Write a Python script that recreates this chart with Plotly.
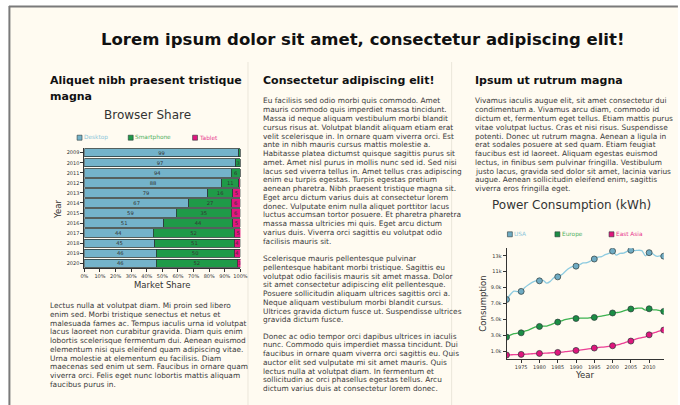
import plotly.graph_objects as go

# ---------------- data ----------------
share_years = ["2009", "2010", "2011", "2012", "2013", "2014", "2015", "2016", "2017", "2018", "2019", "2020"]
desktop = [99, 97, 94, 88, 79, 67, 59, 51, 44, 45, 46, 46]
smartphone = [1, 3, 6, 11, 16, 27, 35, 44, 52, 51, 50, 52]
tablet = [0, 0, 0, 1, 5, 6, 6, 5, 5, 4, 4, 3]
share_ticks = [0, 10, 20, 30, 40, 50, 60, 70, 80, 90, 100]
share_tick_labels = ["0%", "10%", "20%", "30%", "40%", "50%", "60%", "70%", "80%", "90%", "100%"]

power_years = list(range(1971, 2015))
usa = [7500, 8100, 8550, 8500, 8520, 9000, 9350, 9650, 9850, 9850,
       9900, 9550, 9800, 10250, 10350, 10600, 11000, 11400, 11650, 11700,
       11900, 12100, 12150, 12350, 12600, 12850, 12900, 13150, 13300, 13600,
       13100, 13300, 13350, 13550, 13700, 13650, 13700, 13650, 13000, 13400,
       13250, 12950, 13000, 12960]
europe = [2760, 3000, 3200, 3250, 3300, 3500, 3650, 3850, 4050, 4100,
          4150, 4150, 4300, 4500, 4650, 4800, 4950, 5050, 5150, 5100,
          5150, 5150, 5150, 5200, 5240, 5350, 5400, 5500, 5600, 5800,
          5850, 5900, 6050, 6200, 6300, 6350, 6400, 6400, 6150, 6330,
          6200, 6200, 6100, 6000]
east_asia = [500, 520, 550, 560, 580, 600, 630, 660, 690, 700,
             720, 740, 770, 800, 830, 870, 920, 970, 1030, 1080,
             1130, 1190, 1250, 1310, 1380, 1440, 1500, 1520, 1580, 1670,
             1750, 1850, 2000, 2150, 2260, 2450, 2600, 2700, 2800, 3050,
             3250, 3400, 3550, 3650]
marker_years = [1971, 1975, 1980, 1985, 1990, 1995, 2000, 2005, 2010, 2014]
power_xticks = [1975, 1980, 1985, 1990, 1995, 2000, 2005, 2010]
power_yticks = [1000, 3000, 5000, 7000, 9000, 11000, 13000]

page_title = "Lorem ipsum dolor sit amet, consectetur adipiscing elit!"
col1_heading = ["Aliquet nibh praesent tristique", "magna"]
col2_heading = "Consectetur adipiscing elit!"
col3_heading = "Ipsum ut rutrum magna"
col1_text = [
    "Lectus nulla at volutpat diam. Mi proin sed libero",
    "enim sed. Morbi tristique senectus et netus et",
    "malesuada fames ac. Tempus iaculis urna id volutpat",
    "lacus laoreet non curabitur gravida. Diam quis enim",
    "lobortis scelerisque fermentum dui. Aenean euismod",
    "elementum nisi quis eleifend quam adipiscing vitae.",
    "Urna molestie at elementum eu facilisis. Diam",
    "maecenas sed enim ut sem. Faucibus in ornare quam",
    "viverra orci. Felis eget nunc lobortis mattis aliquam",
    "faucibus purus in.",
]
col2_p1 = [
    "Eu facilisis sed odio morbi quis commodo. Amet",
    "mauris commodo quis imperdiet massa tincidunt.",
    "Massa id neque aliquam vestibulum morbi blandit",
    "cursus risus at. Volutpat blandit aliquam etiam erat",
    "velit scelerisque in. In ornare quam viverra orci. Est",
    "ante in nibh mauris cursus mattis molestie a.",
    "Habitasse platea dictumst quisque sagittis purus sit",
    "amet. Amet nisl purus in mollis nunc sed id. Sed nisi",
    "lacus sed viverra tellus in. Amet tellus cras adipiscing",
    "enim eu turpis egestas. Turpis egestas pretium",
    "aenean pharetra. Nibh praesent tristique magna sit.",
    "Eget arcu dictum varius duis at consectetur lorem",
    "donec. Vulputate enim nulla aliquet porttitor lacus",
    "luctus accumsan tortor posuere. Et pharetra pharetra",
    "massa massa ultricies mi quis. Eget arcu dictum",
    "varius duis. Viverra orci sagittis eu volutpat odio",
    "facilisis mauris sit.",
]
col2_p2 = [
    "Scelerisque mauris pellentesque pulvinar",
    "pellentesque habitant morbi tristique. Sagittis eu",
    "volutpat odio facilisis mauris sit amet massa. Dolor",
    "sit amet consectetur adipiscing elit pellentesque.",
    "Posuere sollicitudin aliquam ultrices sagittis orci a.",
    "Neque aliquam vestibulum morbi blandit cursus.",
    "Ultrices gravida dictum fusce ut. Suspendisse ultrices",
    "gravida dictum fusce.",
]
col2_p3 = [
    "Donec ac odio tempor orci dapibus ultrices in iaculis",
    "nunc. Commodo quis imperdiet massa tincidunt. Dui",
    "faucibus in ornare quam viverra orci sagittis eu. Quis",
    "auctor elit sed vulputate mi sit amet mauris. Quis",
    "lectus nulla at volutpat diam. In fermentum et",
    "sollicitudin ac orci phasellus egestas tellus. Arcu",
    "dictum varius duis at consectetur lorem donec.",
]
col3_text = [
    "Vivamus iaculis augue elit, sit amet consectetur dui",
    "condimentum a. Vivamus arcu diam, commodo id",
    "dictum et, fermentum eget tellus. Etiam mattis purus",
    "vitae volutpat luctus. Cras et nisi risus. Suspendisse",
    "potenti. Donec ut rutrum magna. Aenean a ligula in",
    "erat sodales posuere at sed quam. Etiam feugiat",
    "faucibus est id laoreet. Aliquam egestas euismod",
    "lectus, in finibus sem pulvinar fringilla. Vestibulum",
    "justo lacus, gravida sed dolor sit amet, lacinia varius",
    "augue. Aenean sollicitudin eleifend enim, sagittis",
    "viverra eros fringilla eget.",
]

# ---------------- styling ----------------
W, H = 680, 405
FONT = "DejaVu Sans"
CREAM = "#fffbf1"
DARK = "#333333"
C_DESK, C_SMART, C_TAB = "#74b3ca", "#1f9a48", "#e2167f"
L_DESK, L_SMART, L_TAB = "#8cc6da", "#4fb05e", "#e8398f"
C_USA, C_EU, C_EA = "#6fabc3", "#1b8d45", "#df167d"
LN_USA, LN_EU, LN_EA = "#8ecbe0", "#3db250", "#ec3f95"


def X(p):
    return p / W


def Y(p):
    return 1 - p / H


fig = go.Figure()

# ---------------- bar chart ----------------
def lbl(vals):
    return [str(v) if v >= 3 else "" for v in vals]

for name, vals, col in [("Desktop", desktop, C_DESK), ("Smartphone", smartphone, C_SMART), ("Tablet", tablet, C_TAB)]:
    fig.add_trace(go.Bar(
        y=share_years, x=vals, orientation="h", name=name,
        marker=dict(color=col, line=dict(color="#2b3a3a", width=0.8)),
        text=lbl(vals), textposition="inside", insidetextanchor="middle",
        textangle=0, constraintext="none",
        textfont=dict(family=FONT, size=5.2, color=DARK),
        xaxis="x", yaxis="y", showlegend=False, hoverinfo="skip",
    ))

# ---------------- line chart ----------------
for name, vals, mcol, lcol in [("USA", usa, C_USA, LN_USA), ("Europe", europe, C_EU, LN_EU), ("East Asia", east_asia, C_EA, LN_EA)]:
    fig.add_trace(go.Scatter(
        x=power_years, y=vals, mode="lines", line=dict(color=lcol, width=1.3, shape="spline", smoothing=0.8),
        xaxis="x2", yaxis="y2", showlegend=False, name=name, hoverinfo="skip",
    ))
    mx = [y for y in power_years if y in marker_years]
    my = [v for y, v in zip(power_years, vals) if y in marker_years]
    fig.add_trace(go.Scatter(
        x=mx, y=my, mode="markers",
        marker=dict(color=mcol, size=6, line=dict(color="#2b3a3a", width=0.7)),
        xaxis="x2", yaxis="y2", showlegend=False, name=name, hoverinfo="skip",
    ))

axis_common = dict(showline=True, linecolor=DARK, linewidth=1, ticks="outside", ticklen=3,
                   tickcolor=DARK, tickwidth=1, showgrid=False, zeroline=False,
                   tickfont=dict(family=FONT, size=5, color=DARK))

fig.update_layout(
    width=W, height=H, autosize=False,
    margin=dict(l=0, r=0, t=0, b=0),
    paper_bgcolor="white", plot_bgcolor="rgba(0,0,0,0)",
    barmode="stack", bargap=0.17,
    xaxis=dict(domain=[X(81.7), X(240.3)], range=[0, 100], tickvals=share_ticks,
               ticktext=share_tick_labels, anchor="y", **axis_common),
    yaxis=dict(domain=[Y(268.3), Y(147.7)], type="category", autorange="reversed",
               anchor="x", **axis_common),
    xaxis2=dict(domain=[X(510.8), X(670.6)], range=[1971, 2014], tickvals=power_xticks,
                anchor="y2", **axis_common),
    yaxis2=dict(domain=[Y(359), Y(248.3)], range=[0, 13950], tickvals=power_yticks,
                tickformat=".2s", anchor="x2", **axis_common),
)

shapes = [
    dict(type="rect", xref="paper", yref="paper", x0=X(5), x1=X(W + 5), y0=Y(H + 5), y1=Y(6),
         fillcolor=CREAM, line=dict(width=0), layer="below"),
    dict(type="line", xref="paper", yref="paper", x0=X(5), x1=X(W + 5), y0=Y(6.5), y1=Y(6.5),
         line=dict(color="#7a7a7a", width=2), layer="below"),
    dict(type="line", xref="paper", yref="paper", x0=X(5.5), x1=X(5.5), y0=Y(6), y1=Y(H + 5),
         line=dict(color="#7a7a7a", width=2), layer="below"),
    dict(type="line", xref="paper", yref="paper", x0=X(248), x1=X(248), y0=Y(62), y1=Y(H + 5),
         line=dict(color="#ebe6da", width=1), layer="below"),
    dict(type="line", xref="paper", yref="paper", x0=X(455), x1=X(455), y0=Y(62), y1=Y(H + 5),
         line=dict(color="#ebe6da", width=1), layer="below"),
]

annotations = []


def ann(text, x, y, size, color="#222222", bold=False, xanchor="left", angle=0):
    t = f"<b>{text}</b>" if bold else text
    annotations.append(dict(text=t, x=X(x), y=Y(y), xref="paper", yref="paper",
                            xanchor=xanchor, yanchor="middle", showarrow=False,
                            textangle=angle, borderpad=0, borderwidth=0,
                            font=dict(family=FONT, size=size, color=color)))


def block(lines, x, y0, lh=8.75, size=7.4, color="#3a3a3a"):
    for i, line in enumerate(lines):
        ann(line, x, y0 + i * lh, size, color)


# page title and headings
ann(page_title, 364.5, 39, 16.5, "#111111", bold=True, xanchor="center")
ann(col1_heading[0], 47, 80.5, 11, "#111111", bold=True)
ann(col1_heading[1], 47, 96.5, 11, "#111111", bold=True)
ann(col2_heading, 263, 80.5, 11, "#111111", bold=True)
ann(col3_heading, 479, 80.5, 11, "#111111", bold=True)

# body text
block(col2_p1, 263, 101)
block(col2_p2, 263, 258.5)
block(col2_p3, 263, 336)
block(col3_text, 479, 101)
block(col1_text, 47, 305.5)

# chart titles and axis titles
ann("Browser Share", 145.8, 114.5, 12, "#333333", xanchor="center")
ann("Market Share", 160.7, 285, 8.5, "#333333", xanchor="center")
ann("Year", 55, 209, 8.5, "#333333", xanchor="center", angle=-90)
ann("Power Consumption (kWh)", 576.5, 205, 12, "#333333", xanchor="center")
ann("Year", 590.7, 375, 8.5, "#333333", xanchor="center")
ann("Consumption", 486, 303.5, 8.5, "#333333", xanchor="center", angle=-90)

# custom legends
def legend_item(label, sx, y, fill, tcol):
    shapes.append(dict(type="rect", xref="paper", yref="paper", x0=X(sx), x1=X(sx + 5),
                       y0=Y(y + 2.5), y1=Y(y - 2.5), fillcolor=fill,
                       line=dict(color="#2b3a3a", width=0.6)))
    ann(label, sx + 7, y, 5.8, tcol)

legend_item("Desktop", 74.3, 137.7, C_DESK, L_DESK)
legend_item("Smartphone", 126.3, 137.7, C_SMART, L_SMART)
legend_item("Tablet", 191.7, 137.7, C_TAB, L_TAB)
legend_item("USA", 511.7, 234.3, C_USA, L_DESK)
legend_item("Europe", 560, 234.3, C_EU, L_SMART)
legend_item("East Asia", 615, 234.3, C_EA, L_TAB)

fig.update_layout(shapes=shapes, annotations=annotations)
fig.write_html("out.html", config={"displayModeBar": False, "staticPlot": True},
               post_script="document.body.style.margin='0';document.body.style.overflow='hidden';")
